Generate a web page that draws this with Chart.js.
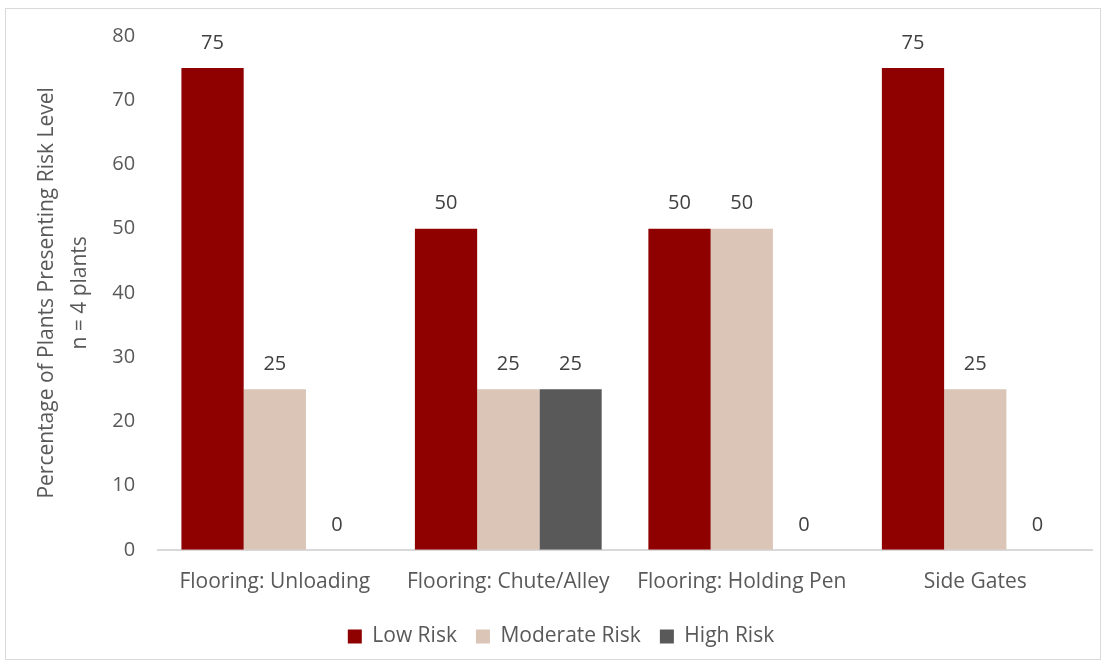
<!DOCTYPE html>
<html>
<head>
<meta charset="utf-8">
<script src="https://cdn.jsdelivr.net/npm/chart.js@4.4.0/dist/chart.umd.min.js"></script>
<style>
  html, body { margin: 0; padding: 0; background: #fff; }
  #wrap { position: absolute; left: 5px; top: 8px; width: 1094px; height: 650px; border: 1px solid #d9d9d9; }
</style>
</head>
<body>
<div id="wrap"><canvas id="chart"></canvas></div>
<script>
var categories = ["Flooring: Unloading", "Flooring: Chute/Alley", "Flooring: Holding Pen", "Side Gates"];
var lowRisk = [75, 50, 50, 75];
var moderateRisk = [25, 25, 50, 25];
var highRisk = [0, 25, 0, 0];
var yTitle = ["Percentage of Plants Presenting Risk Level", "n = 4 plants"];

var textColor = "#595959";
var fontFamily = "'Open Sans', sans-serif";

// draws the value above every bar
var valueLabels = {
    id: "valueLabels",
    afterDatasetsDraw: function (chart) {
        var ctx = chart.ctx;
        ctx.save();
        ctx.font = "20px " + fontFamily;
        ctx.fillStyle = "#404040";
        ctx.textAlign = "center";
        ctx.textBaseline = "middle";
        chart.data.datasets.forEach(function (ds, i) {
            chart.getDatasetMeta(i).data.forEach(function (bar, j) {
                ctx.fillText(ds.data[j], bar.x, bar.y - 25);
            });
        });
        ctx.restore();
    }
};

new Chart(document.getElementById("chart"), {
    type: "bar",
    data: {
        labels: categories,
        datasets: [{
            label: "Low Risk",
            data: lowRisk,
            backgroundColor: "#8f0000"
        }, {
            label: "Moderate Risk",
            data: moderateRisk,
            backgroundColor: "#dac5b6"
        }, {
            label: "High Risk",
            data: highRisk,
            backgroundColor: "#595959"
        }]
    },
    options: {
        responsive: true,
        maintainAspectRatio: false,
        animation: false,
        layout: { padding: { top: 26, right: 8, left: 24, bottom: 2 } },
        scales: {
            x: {
                grid: { display: false },
                border: { color: "#d9d9d9", width: 2 },
                ticks: { color: textColor, font: { size: 21, family: fontFamily }, padding: 12 }
            },
            y: {
                min: 0,
                max: 80,
                grid: { display: false },
                border: { display: false },
                ticks: { stepSize: 10, color: textColor, font: { size: 20, family: fontFamily }, padding: 15 },
                title: {
                    display: true,
                    text: yTitle,
                    color: textColor,
                    font: { size: 21, family: fontFamily, lineHeight: 1.6 },
                    padding: { top: 0, bottom: 0 }
                }
            }
        },
        datasets: {
            bar: { categoryPercentage: 0.8, barPercentage: 1.0 }
        },
        plugins: {
            legend: {
                position: "bottom",
                labels: {
                    color: textColor,
                    font: { size: 21, family: fontFamily },
                    boxWidth: 14,
                    boxHeight: 14,
                    padding: 19
                }
            },
            tooltip: { enabled: false }
        }
    },
    plugins: [valueLabels]
});
</script>
</body>
</html>
